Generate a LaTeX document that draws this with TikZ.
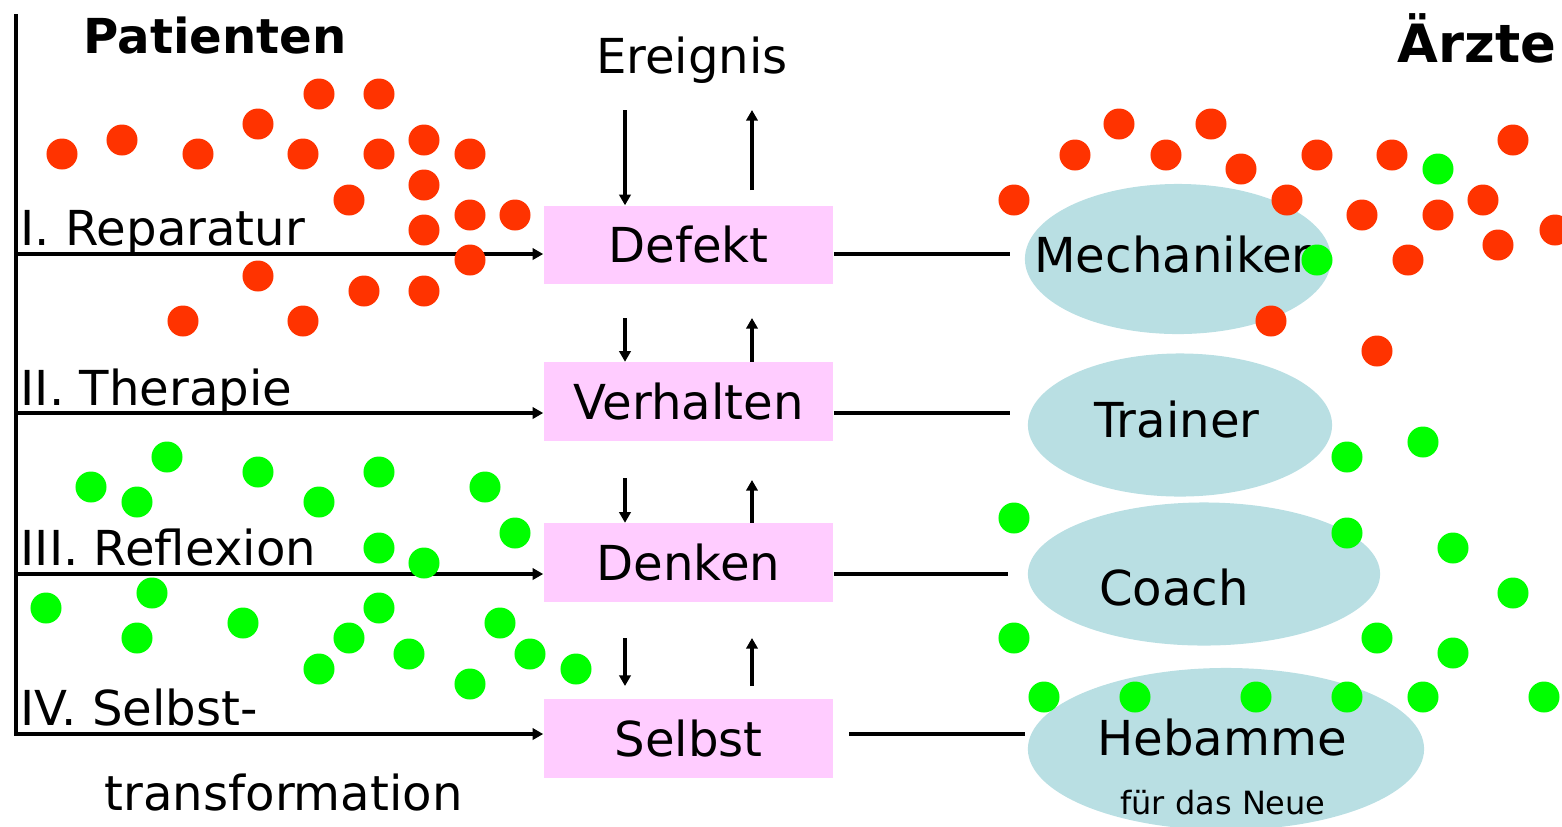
\documentclass[tikz,border=0pt]{standalone}
\usepackage{fontspec}
\setmainfont{DejaVu Sans}
\usetikzlibrary{arrows.meta,shapes.geometric}

\definecolor{dotred}{HTML}{FF3300}
\definecolor{dotgreen}{HTML}{00FF00}
\definecolor{boxpink}{HTML}{FFCCFF}
\definecolor{rolebg}{HTML}{B9DFE3}

\begin{document}
\begin{tikzpicture}[x=0.01cm,y=-0.01cm,
  box/.style={fill=boxpink,minimum width=2.89cm,minimum height=0.78cm,inner sep=0pt,font=\fontsize{13.7}{16}\selectfont},
  role/.style={ellipse,fill=rolebg,inner sep=0pt},
  lbl/.style={inner sep=0pt,font=\fontsize{13.7}{16}\selectfont},
  flow/.style={line width=1.2pt,-{Triangle[length=3pt,width=3.2pt]}},
  link/.style={line width=1.3pt}]

\useasboundingbox (0,0) rectangle (1562,826);

% Define coordinates
\coordinate (axtop) at (16,14);
\coordinate (axbot) at (16,736);
\coordinate (rowI)   at (16,254);
\coordinate (rowII)  at (16,413);
\coordinate (rowIII) at (16,574);
\coordinate (rowIV)  at (16,734);

% Roles of the doctors
\node[role,minimum width=3.06cm,minimum height=1.50cm] (mech)    at (1178,259) {};
\node[role,minimum width=3.04cm,minimum height=1.43cm] (trainer) at (1180,425) {};
\node[role,minimum width=3.52cm,minimum height=1.43cm] (coach)   at (1204,574) {};
\node[role,minimum width=3.96cm,minimum height=1.62cm] (hebamme) at (1226,749) {};

\node[lbl,anchor=base] (mechtxt)    at (1173,272) {Mechaniker};
\node[lbl,anchor=base] (trainertxt) at (1177,437) {Trainer};
\node[lbl,anchor=base] (coachtxt)   at (1174,605) {Coach};
\node[lbl,anchor=base] (hebtxt)     at (1222,755) {Hebamme};
\node[inner sep=0pt,anchor=base,font=\fontsize{9.1}{11}\selectfont] (neutxt) at (1223,814) {für das Neue};

% Levels
\node[box] (defekt)    at (688.5,245)   {Defekt};
\node[box] (verhalten) at (688.5,401.5) {Verhalten};
\node[box] (denken)    at (688.5,562.5) {Denken};
\node[box] (selbst)    at (688.5,738.5) {Selbst};

% Titles
\node[lbl,anchor=base west,font=\fontsize{13.7}{16}\selectfont\bfseries] (patienten) at (83,53) {Patienten};
\node[lbl,anchor=base east,font=\fontsize{15}{18}\selectfont\bfseries] (aerzte) at (1557,62) {Ärzte};
\node[lbl,anchor=base] (ereignis) at (692,73) {Ereignis};

% Axis and arrows of the patients
\draw[line width=1.4pt] (axtop) -- (axbot);
\draw[flow] (rowI)   -- (rowI -| defekt.west);
\draw[flow] (rowII)  -- (rowII -| verhalten.west);
\draw[flow] (rowIII) -- (rowIII -| denken.west);
\draw[flow] (rowIV)  -- (rowIV -| selbst.west);

\node[lbl,anchor=base west] (rep)   at (20,245) {I. Reparatur};
\node[lbl,anchor=base west] (ther)  at (20,405) {II. Therapie};
\node[lbl,anchor=base west] (refl)  at (20,565) {III. Reflexion};
\node[lbl,anchor=base west] (selb)  at (20,725) {IV. Selbst-};
\node[lbl,anchor=base west] (trans) at (104,810) {transformation};

% Lines to the doctors
\coordinate (mechIn)    at (1010,254);
\coordinate (trainerIn) at (1010,413);
\coordinate (coachIn)   at (1008,574);
\coordinate (hebIn)     at (1025,734);
\coordinate (selbstOut) at (849,734);
\draw[link] (defekt.east |- mechIn) -- (mechIn);
\draw[link] (verhalten.east |- trainerIn) -- (trainerIn);
\draw[link] (denken.east |- coachIn) -- (coachIn);
\draw[link] (selbstOut) -- (hebIn);

% Up and down
\coordinate (evDown) at (625,110);
\coordinate (evUpA)  at (752,190);
\coordinate (evUpB)  at (752,110);
\draw[flow] (evDown) -- (evDown |- defekt.north);
\draw[flow] (evUpA) -- (evUpB);

\draw[flow] (625,318) -- (625,318 |- verhalten.north);
\draw[flow] (752,318 |- verhalten.north) -- (752,318);
\draw[flow] (625,478) -- (625,478 |- denken.north);
\draw[flow] (752,480 |- denken.north) -- (752,480);
\coordinate (dsDownA) at (625,638);
\coordinate (dsDownB) at (625,686);
\coordinate (dsUpA)   at (752,686);
\coordinate (dsUpB)   at (752,638);
\draw[flow] (dsDownA) -- (dsDownB);
\draw[flow] (dsUpA) -- (dsUpB);

% Red dots
\foreach \x/\y in {62/154,122/140,198/154,258/124,319/94,379/94,303/154,379/154,
  424/140,470/154,349/200,424/185,470/215,515/215,424/230,470/260,258/276,364/291,
  424/291,183/321,303/321,
  1119/124,1211/124,1075/155,1166/155,1241/169,1317/155,1392/155,1513/140,1014/200,
  1287/200,1362/215,1438/215,1483/200,1555/230,1498/245,1408/260,1271/321,1377/351}
  \fill[dotred] (\x,\y) circle[radius=0.155cm];

% Green dots
\foreach \x/\y in {91/487,167/457,137/502,258/472,319/502,379/472,485/487,515/533,
  379/548,424/563,46/608,152/593,137/638,243/623,379/608,349/638,319/669,409/654,
  500/623,530/654,470/684,576/669,
  1438/169,1317/260,1347/457,1423/442,
  1014/518,1347/533,1453/548,1513/593,1014/638,1377/638,1453/653,1044/697,1135/697,
  1256/697,1347/697,1423/697,1544/697}
  \fill[dotgreen] (\x,\y) circle[radius=0.155cm];

\end{tikzpicture}
\end{document}
